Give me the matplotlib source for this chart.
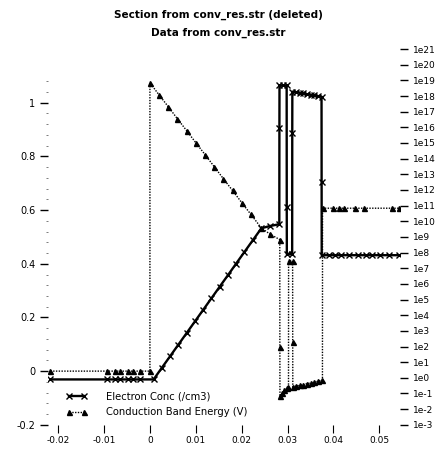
import matplotlib
matplotlib.use("Agg")
import matplotlib.pyplot as plt
from matplotlib.ticker import FixedLocator, FixedFormatter

# ---------------- data ----------------
title_lines = ["Section from conv_res.str (deleted)", "Data from conv_res.str"]
series_names = ["Electron Conc (/cm3)", "Conduction Band Energy (V)"]

x_ticks = [-0.02, -0.01, 0.0, 0.01, 0.02, 0.03, 0.04, 0.05]
x_tick_labels = ["-0.02", "-0.01", "0", "0.01", "0.02", "0.03", "0.04", "0.05"]
left_ticks = [-0.2, 0.0, 0.2, 0.4, 0.6, 0.8, 1.0]
left_tick_labels = ["-0.2", "0", "0.2", "0.4", "0.6", "0.8", "1"]
right_exponents = list(range(-3, 22))
right_tick_labels = ["1e%d" % e for e in right_exponents]

# Conduction band energy (V), left axis
cb_x = [-0.0217, -0.0093, -0.0076, -0.0065, -0.0048, -0.0037, -0.0022, 0.0,
        0.0, 0.002, 0.004, 0.006, 0.008, 0.010, 0.012, 0.014, 0.016, 0.018, 0.020, 0.022, 0.0243,
        0.0262, 0.0283, 0.02832, 0.02834, 0.0288, 0.0293, 0.0298, 0.0302,
        0.03022, 0.0311, 0.03112, 0.03114,
        0.0318, 0.0326, 0.0334, 0.0342, 0.0350, 0.0358, 0.0366, 0.0376,
        0.03762, 0.0398, 0.0413, 0.0424, 0.0446, 0.0467, 0.0528, 0.0543]
cb_v = [0.0, 0.0, 0.0, 0.0, 0.0, 0.0, 0.0, 0.0,
        1.074, 1.029, 0.985, 0.940, 0.896, 0.851, 0.807, 0.762, 0.717, 0.673, 0.628, 0.584, 0.533,
        0.510, 0.490, 0.090, -0.093, -0.082, -0.072, -0.064, -0.059,
        0.410, 0.410, 0.110, -0.059,
        -0.056, -0.053, -0.050, -0.047, -0.044, -0.041, -0.038, -0.034,
        0.607, 0.607, 0.607, 0.607, 0.607, 0.607, 0.607, 0.607]

# Electron concentration (/cm3), right (log) axis
el_x = [-0.0217, -0.0093, -0.0076, -0.0065, -0.0048, -0.0037, -0.0022, 0.0008,
        0.0026, 0.0044, 0.0062, 0.0080, 0.0098, 0.0116, 0.0134, 0.0152, 0.0170, 0.0188, 0.0206, 0.0224, 0.0243,
        0.0262, 0.0282, 0.02822, 0.02824, 0.0290, 0.0298, 0.02982, 0.02984, 0.0310, 0.03102, 0.03104,
        0.0318, 0.0326, 0.0334, 0.0342, 0.0350, 0.0358, 0.0366, 0.0374, 0.03742, 0.03744,
        0.0391, 0.0404, 0.0417, 0.0433, 0.0453, 0.0470, 0.0485, 0.0502, 0.0520, 0.0543]
el_n = [0.79, 0.79, 0.79, 0.79, 0.79, 0.79, 0.79, 0.79,
        4.4, 24, 132, 724, 3980, 2.19e4, 1.2e5, 6.6e5, 3.6e6, 2.0e7, 1.1e8, 6.0e8, 3.6e9,
        5.0e9, 6.5e9, 9.3e15, 4.7e18, 4.7e18, 4.7e18, 7.9e10, 7.9e7, 7.9e7, 4.5e15, 1.9e18,
        1.8e18, 1.6e18, 1.45e18, 1.3e18, 1.2e18, 1.1e18, 1.0e18, 9.1e17, 3.2e12, 6.8e7,
        6.8e7, 6.8e7, 6.8e7, 6.8e7, 6.8e7, 6.8e7, 6.8e7, 6.8e7, 6.8e7, 6.8e7]

# ---------------- figure ----------------
plt.rcParams['font.family'] = ['DejaVu Sans']
fig = plt.figure(figsize=(4.41, 4.5), dpi=100)
ax = fig.add_axes([0.109, 0.056, 0.798, 0.835])
ax2 = ax.twinx()

cb_line, = ax.plot(cb_x, cb_v, color='black', linestyle=(0, (1, 1)), linewidth=1.0,
                   marker='^', markersize=3.6, markerfacecolor='black', markeredgecolor='black')
el_line, = ax2.plot(el_x, el_n, color='black', linestyle='-', linewidth=1.7,
                    marker='x', markersize=3.8, markeredgewidth=1.0)

ax.set_xlim(-0.0222, 0.0545)
ax.set_ylim(-0.2, 1.2)
ax2.set_yscale('log')
ax2.set_ylim(1e-3, 1e21)

for a in (ax, ax2):
    for s in a.spines.values():
        s.set_visible(False)

ax.xaxis.set_major_locator(FixedLocator(x_ticks))
ax.xaxis.set_major_formatter(FixedFormatter(x_tick_labels))
ax.yaxis.set_major_locator(FixedLocator(left_ticks))
ax.yaxis.set_major_formatter(FixedFormatter(left_tick_labels))
ax.yaxis.set_minor_locator(FixedLocator([-0.16, -0.12, -0.08, -0.04, 0.04, 0.08, 0.12, 0.16,
                                         0.24, 0.28, 0.32, 0.36, 0.44, 0.48, 0.52, 0.56,
                                         0.64, 0.68, 0.72, 0.76, 0.84, 0.88, 0.92, 0.96,
                                         1.04, 1.08]))
ax2.yaxis.set_major_locator(FixedLocator([10.0 ** e for e in right_exponents]))
ax2.yaxis.set_major_formatter(FixedFormatter(right_tick_labels))
ax2.yaxis.set_minor_locator(FixedLocator([]))

ax.tick_params(axis='x', direction='out', length=6, width=0.8, labelsize=6.5, pad=2)
ax.tick_params(axis='y', which='major', direction='out', length=6, width=1.0, labelsize=7, pad=3)
ax.tick_params(axis='y', which='minor', direction='out', length=1.5, width=0.6, color='#666666')
ax2.tick_params(axis='y', which='major', direction='out', length=6, width=1.0, labelsize=6.5, pad=3)

fig.text(0.495, 0.967, title_lines[0], ha='center', va='center', fontsize=7.5, fontweight='bold')
fig.text(0.495, 0.927, title_lines[1], ha='center', va='center', fontsize=7.5, fontweight='bold')

leg = ax2.legend([el_line, cb_line], series_names, loc='lower left',
                 bbox_to_anchor=(0.04, 0.01), frameon=False, fontsize=7.2,
                 numpoints=2, handlelength=2.1, handletextpad=1.9,
                 borderaxespad=0, labelspacing=0.6)

fig.savefig("out.png", dpi=100)
